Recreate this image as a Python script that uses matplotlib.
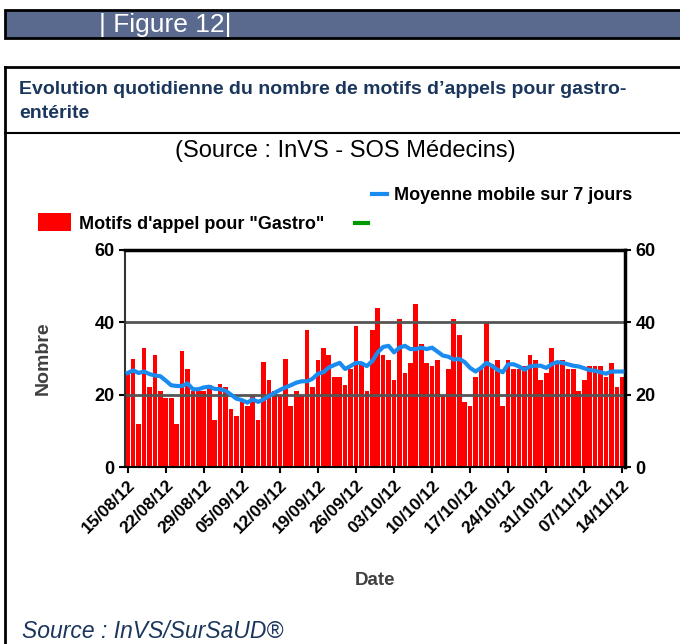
import matplotlib
matplotlib.use("Agg")
import matplotlib.pyplot as plt
import numpy as np
import pandas as pd
from matplotlib.lines import Line2D
from matplotlib.patches import Rectangle

plt.rcParams["font.family"] = ["Liberation Sans", "DejaVu Sans"]

# Daily calls for "Gastro", 15/08/12 -> 14/11/12
dates = pd.date_range("2012-08-15", "2012-11-14", freq="D")
gastro = [26, 30, 12, 33, 22, 31, 21, 19, 19, 12, 32, 27, 21, 21, 21, 22.6,
          13, 23, 22, 16, 14, 18, 17, 20, 13, 29, 24, 21, 20, 30, 17,
          21, 20, 38, 22, 29.5, 33, 31, 25, 25, 22.6, 27, 39, 29, 21, 38, 44,
          31, 29.6, 24, 41, 26, 28.7, 45, 34, 28.7, 28, 29.6, 20, 27, 41, 36.6,
          18, 17, 25, 27, 40, 28.5, 29.5, 17, 29.5, 27, 27, 28, 31, 29.5, 24,
          26, 33, 29, 29.6, 27, 27, 21, 24, 28, 28, 28, 25, 28.7, 22, 25]
# 7-day moving average
moving_avg = [26, 26.7, 26, 26.4, 25.7, 25.3, 25.1, 23.9, 22.6, 22.4, 22.4, 23.1,
              21.5, 21.5, 22, 22.2, 21.6, 21.5, 21.1, 20, 18.9, 18.5, 17.8, 18.7,
              18, 18.7, 19.6, 20.5, 21.3, 22, 22.6, 23.3, 23.7, 23.7, 24.4, 25.8,
              26.2, 27.5, 28.2, 28.8, 27.1, 27.9, 28.8, 28.7, 27.9, 29.3, 31.7,
              33.2, 33.5, 31.7, 33, 33.5, 32.6, 32.6, 33, 32.6, 33, 31.9, 30.8,
              30.5, 29.7, 29.9, 29, 27.4, 26.4, 27.4, 28.8, 28, 26.9, 26.2, 28.4,
              28.4, 27.8, 26.9, 27.8, 28, 28, 27.4, 28.4, 29, 28.8, 28.4, 28,
              27.8, 27.3, 26.8, 26.6, 26.2, 25.8, 26.4, 26.4, 26.4]
tick_labels = ["15/08/12", "22/08/12", "29/08/12", "05/09/12", "12/09/12",
               "19/09/12", "26/09/12", "03/10/12", "10/10/12", "17/10/12",
               "24/10/12", "31/10/12", "07/11/12", "14/11/12"]
y_ticks = [0, 20, 40, 60]

W, H = 680, 644
NAVY = "#1b365d"


def fx(px):
    return px / W


def fy(py):
    return 1 - py / H


fig = plt.figure(figsize=(W / 100, H / 100), dpi=100)

# banner
fig.patches.append(Rectangle((fx(5), fy(38)), fx(680), 28 / H, transform=fig.transFigure,
                             facecolor="#5a6a8e", edgecolor="black", linewidth=2))
fig.text(fx(99), fy(25), "| Figure 12|", color="white", fontsize=19, va="center")

# framed box
fig.add_artist(Line2D([fx(5), fx(680)], [fy(67), fy(67)], color="black", lw=2))
fig.add_artist(Line2D([fx(5), fx(5)], [fy(67), 0], color="black", lw=2))
fig.add_artist(Line2D([fx(5), fx(680)], [fy(133), fy(133)], color="black", lw=1.5))
fig.text(fx(19), fy(90), "Evolution quotidienne du nombre de motifs d\u2019appels pour gastro-",
         color=NAVY, fontsize=14, fontweight="bold", va="center")
fig.text(fx(19), fy(113), "ent\u00e9rite", color=NAVY, fontsize=14, fontweight="bold", va="center")
fig.text(fx(345), fy(151), "(Source : InVS - SOS M\u00e9decins)", fontsize=17,
         ha="center", va="center")
fig.text(fx(22), fy(632), "Source : InVS/SurSaUD\u00ae", color=NAVY, fontsize=16.5,
         style="italic", va="center")

ax = fig.add_axes([fx(125), fy(467), 500 / W, 217 / H])
x = np.arange(len(dates))
bars = ax.bar(x, gastro, width=0.86, color="#ff0000", zorder=2)
for yv in (20, 40):
    ax.axhline(yv, color="#555555", lw=2, zorder=2.5)
ma_line, = ax.plot(x, moving_avg, color="#1a8cf0", lw=3, zorder=3)

ax.set_xlim(-0.5, len(dates) - 0.5)
ax.set_ylim(0, 60)
ax.set_yticks(y_ticks)
ax.set_yticklabels([str(v) for v in y_ticks], fontsize=13, fontweight="bold")
ax.set_xticks(x[::7])
ax.set_xticklabels(tick_labels, rotation=45, ha="right", rotation_mode="anchor",
                   fontsize=12.5, fontweight="bold")
ax.tick_params(axis="y", right=True, labelright=True, direction="out", length=4, width=1.5)
ax.tick_params(axis="x", direction="out", length=4, width=1.5)
ax.spines["top"].set_linewidth(2.5)
ax.spines["right"].set_linewidth(2.5)
ax.spines["left"].set_color("#333333")
ax.spines["left"].set_linewidth(1.5)
ax.spines["bottom"].set_linewidth(1.5)
ax.set_ylabel("Nombre", fontsize=14, fontweight="bold", color="#404040", labelpad=31)
ax.set_xlabel("Date", fontsize=13.5, fontweight="bold", color="#404040", labelpad=26)

# legends
fig.legend([ma_line], ["Moyenne mobile sur 7 jours"], loc="center left",
           bbox_to_anchor=(fx(372), fy(196)), frameon=False, borderpad=0, borderaxespad=0,
           handlelength=0.85, handletextpad=0.35, prop={"size": 13, "weight": "bold"})
fig.legend([bars], ['Motifs d\'appel pour "Gastro"'], loc="center left",
           bbox_to_anchor=(fx(38), fy(223)), frameon=False, borderpad=0, borderaxespad=0,
           handlelength=1.8, handleheight=1.15, handletextpad=0.45,
           prop={"size": 13, "weight": "bold"})
fig.legend([Line2D([], [], color="#009900", lw=3)], [""], loc="center left",
           bbox_to_anchor=(fx(355), fy(224)), frameon=False, borderpad=0, borderaxespad=0,
           handlelength=0.8, prop={"size": 12})

fig.savefig("out.png", dpi=100)
